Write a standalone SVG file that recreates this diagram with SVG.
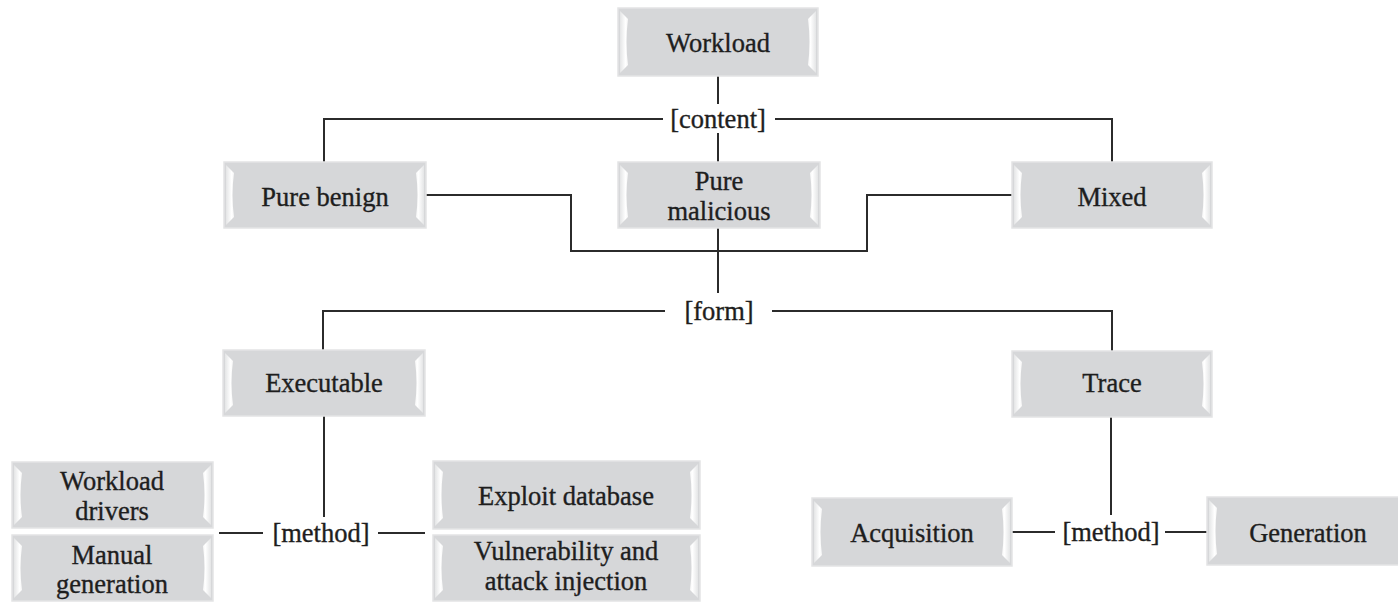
<svg xmlns="http://www.w3.org/2000/svg" width="1398" height="603" viewBox="0 0 1398 603">
  <defs>
    <linearGradient id="hlL" x1="0" y1="0" x2="1" y2="0">
      <stop offset="0" stop-color="#e4e5e6"/>
      <stop offset="0.7" stop-color="#ffffff"/>
      <stop offset="1" stop-color="#f6f6f6"/>
    </linearGradient>
    <linearGradient id="hlR" x1="1" y1="0" x2="0" y2="0">
      <stop offset="0" stop-color="#e4e5e6"/>
      <stop offset="0.7" stop-color="#ffffff"/>
      <stop offset="1" stop-color="#f6f6f6"/>
    </linearGradient>
    <style>
      .box { fill: #d6d7d9; stroke: #e3e4e5; stroke-width: 1.5; }
      .hl-l { fill: url(#hlL); }
      .hl-r { fill: url(#hlR); }
      text { font-family: 'Liberation Serif', 'Times New Roman', Times, serif; font-size: 26.5px; fill: #1e1e1e; stroke: #1e1e1e; stroke-width: 0.35; text-anchor: middle; }
      .wire { fill: none; stroke: #2b2b2b; stroke-width: 2; }
    </style>
  </defs>
  <rect width="1398" height="603" fill="#ffffff"/>

  <!-- connectors -->
  <g id="connectors">
    <!-- content split -->
    <line class="wire" x1="718" y1="76" x2="718" y2="104"/>
    <polyline class="wire" points="663,119 324,119 324,162"/>
    <polyline class="wire" points="775,119 1112,119 1112,162"/>
    <line class="wire" x1="718" y1="133" x2="718" y2="162"/>
    <!-- side categories joining the form branch -->
    <polyline class="wire" points="426,195 571,195 571,251 867,251 867,195 1012,195"/>
    <line class="wire" x1="718" y1="228" x2="718" y2="293"/>
    <!-- form split -->
    <polyline class="wire" points="665,311 323,311 323,350"/>
    <polyline class="wire" points="772,311 1112,311 1112,351"/>
    <!-- executable method -->
    <line class="wire" x1="324" y1="416" x2="324" y2="517"/>
    <line class="wire" x1="219" y1="533" x2="263" y2="533"/>
    <line class="wire" x1="378" y1="533" x2="425" y2="533"/>
    <!-- trace method -->
    <line class="wire" x1="1111" y1="417" x2="1111" y2="515"/>
    <line class="wire" x1="1009" y1="532" x2="1055" y2="532"/>
    <line class="wire" x1="1165" y1="532" x2="1207" y2="532"/>
  </g>

  <g font-family="Liberation Serif, Times New Roman, serif">
    <!-- split labels -->
    <g id="tag-content"><text x="718" y="128">[content]</text></g>
    <g id="tag-form"><text x="719" y="320">[form]</text></g>
    <g id="tag-method-exec"><text x="321" y="542">[method]</text></g>
    <g id="tag-method-trace"><text x="1111" y="541">[method]</text></g>

    <!-- nodes -->
    <g id="node-workload">
      <rect class="box" x="618" y="8" width="200" height="68"/>
      <path class="hl-l" d="M620,11 L628,19 Q625,42 628,65 L620,73 Z"/>
      <path class="hl-r" d="M816,11 L808,19 Q811,42 808,65 L816,73 Z"/>
      <text x="718" y="52">Workload</text>
    </g>
    <g id="node-pure-benign">
      <rect class="box" x="224" y="162" width="202" height="66"/>
      <path class="hl-l" d="M226,165 L234,173 Q231,195 234,217 L226,225 Z"/>
      <path class="hl-r" d="M424,165 L416,173 Q419,195 416,217 L424,225 Z"/>
      <text x="325" y="206">Pure benign</text>
    </g>
    <g id="node-pure-malicious">
      <rect class="box" x="618" y="162" width="202" height="66"/>
      <path class="hl-l" d="M620,165 L628,173 Q625,195 628,217 L620,225 Z"/>
      <path class="hl-r" d="M818,165 L810,173 Q813,195 810,217 L818,225 Z"/>
      <text x="719" y="190">Pure</text>
      <text x="719" y="220">malicious</text>
    </g>
    <g id="node-mixed">
      <rect class="box" x="1012" y="162" width="200" height="66"/>
      <path class="hl-l" d="M1014,165 L1022,173 Q1019,195 1022,217 L1014,225 Z"/>
      <path class="hl-r" d="M1210,165 L1202,173 Q1205,195 1202,217 L1210,225 Z"/>
      <text x="1112" y="206">Mixed</text>
    </g>
    <g id="node-executable">
      <rect class="box" x="223" y="350" width="202" height="66"/>
      <path class="hl-l" d="M225,353 L233,361 Q230,383 233,405 L225,413 Z"/>
      <path class="hl-r" d="M423,353 L415,361 Q418,383 415,405 L423,413 Z"/>
      <text x="324" y="392">Executable</text>
    </g>
    <g id="node-trace">
      <rect class="box" x="1012" y="351" width="200" height="66"/>
      <path class="hl-l" d="M1014,354 L1022,362 Q1019,384 1022,406 L1014,414 Z"/>
      <path class="hl-r" d="M1210,354 L1202,362 Q1205,384 1202,406 L1210,414 Z"/>
      <text x="1112" y="392">Trace</text>
    </g>
    <g id="node-workload-drivers">
      <rect class="box" x="12" y="462" width="201" height="66"/>
      <path class="hl-l" d="M14,465 L22,473 Q19,495 22,517 L14,525 Z"/>
      <path class="hl-r" d="M211,465 L203,473 Q206,495 203,517 L211,525 Z"/>
      <text x="112" y="490">Workload</text>
      <text x="112" y="520">drivers</text>
    </g>
    <g id="node-manual-generation">
      <rect class="box" x="12" y="535" width="201" height="66"/>
      <path class="hl-l" d="M14,538 L22,546 Q19,568 22,590 L14,598 Z"/>
      <path class="hl-r" d="M211,538 L203,546 Q206,568 203,590 L211,598 Z"/>
      <text x="112" y="564">Manual</text>
      <text x="112" y="593">generation</text>
    </g>
    <g id="node-exploit-database">
      <rect class="box" x="433" y="461" width="267" height="68"/>
      <path class="hl-l" d="M435,464 L443,472 Q440,495 443,518 L435,526 Z"/>
      <path class="hl-r" d="M698,464 L690,472 Q693,495 690,518 L698,526 Z"/>
      <text x="566" y="505">Exploit database</text>
    </g>
    <g id="node-vulnerability-injection">
      <rect class="box" x="433" y="535" width="267" height="66"/>
      <path class="hl-l" d="M435,538 L443,546 Q440,568 443,590 L435,598 Z"/>
      <path class="hl-r" d="M698,538 L690,546 Q693,568 690,590 L698,598 Z"/>
      <text x="566" y="560">Vulnerability and</text>
      <text x="566" y="590">attack injection</text>
    </g>
    <g id="node-acquisition">
      <rect class="box" x="812" y="498" width="200" height="68"/>
      <path class="hl-l" d="M814,501 L822,509 Q819,532 822,555 L814,563 Z"/>
      <path class="hl-r" d="M1010,501 L1002,509 Q1005,532 1002,555 L1010,563 Z"/>
      <text x="912" y="542">Acquisition</text>
    </g>
    <g id="node-generation">
      <rect class="box" x="1207" y="497" width="202" height="68"/>
      <path class="hl-l" d="M1209,500 L1217,508 Q1214,531 1217,554 L1209,562 Z"/>
      <path class="hl-r" d="M1407,500 L1399,508 Q1402,531 1399,554 L1407,562 Z"/>
      <text x="1308" y="542">Generation</text>
    </g>
  </g>
</svg>
